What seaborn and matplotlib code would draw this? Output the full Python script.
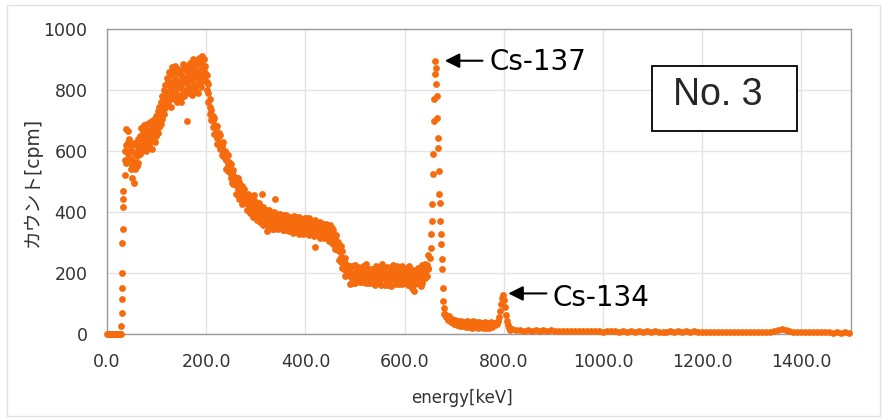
import matplotlib
matplotlib.use('Agg')
import matplotlib.pyplot as plt
import numpy as np
import pandas as pd
import seaborn as sns
from matplotlib.patches import Rectangle

# gamma spectrum No.3 (energy in keV, count in cpm)
zero_energy = [0, 2, 4, 6, 8, 10, 12, 14, 16, 18, 20, 22, 24, 26, 28]
zero_count = [0, 0, 0, 0, 0, 0, 0, 0, 0, 0, 0, 0, 0, 0, 0]

edge_energy = [29, 29.4, 29.8, 30.2, 30.6, 31, 31.4, 31.8, 32.2, 32.6]
edge_count = [26, 70, 115, 152, 201, 299, 344, 415, 443, 469]

# the continuum is a wide scatter band: three readings per energy (top, middle, bottom of band)
band_energy = [36, 39, 42, 45, 48, 51, 54, 57, 60, 63,
               66, 69, 72, 75, 78, 81, 84, 87, 90, 93,
               96, 99, 102, 105, 108, 111, 114, 117, 120, 123,
               126, 129, 132, 135, 138, 141, 144, 147, 150, 153,
               156, 159, 162, 165, 168, 171, 174, 177, 180, 183,
               186, 189, 192, 195, 198, 201, 204, 207, 210, 213,
               216, 219, 222, 225, 228, 231, 234, 237, 240, 243,
               246, 249, 252, 255, 258, 261, 264, 267, 270, 273,
               276, 279, 282, 285, 288, 291, 294, 297, 300, 303,
               306, 309, 312, 315, 318, 321, 324, 327, 330, 333,
               336, 339, 342, 345, 348, 351, 354, 357, 360, 363,
               366, 369, 372, 375, 378, 381, 384, 387, 390, 393,
               396, 399, 402, 405, 408, 411, 414, 417, 420, 423,
               426, 429, 432, 435, 438, 441, 444, 447, 450, 453,
               456, 459, 462, 465, 468, 471, 474, 477, 480, 483,
               486, 489, 492, 495, 498, 501, 504, 507, 510, 513,
               516, 519, 522, 525, 528, 531, 534, 537, 540, 543,
               546, 549, 552, 555, 558, 561, 564, 567, 570, 573,
               576, 579, 582, 585, 588, 591, 594, 597, 600, 603,
               606, 609, 612, 615, 618, 621, 624, 627, 630, 633,
               636, 639, 642, 645, 648]
band_upper = [600, 672, 665, 640, 620, 600, 625, 590, 615, 640,
              650, 675, 660, 685, 670, 690, 665, 695, 680, 700,
              690, 715, 730, 745, 760, 780, 800, 815, 840, 830,
              860, 850, 875, 860, 880, 855, 870, 865, 850, 885,
              870, 880, 860, 875, 890, 870, 900, 880, 895, 885,
              905, 890, 910, 900, 880, 850, 820, 770, 735, 715,
              709, 682, 682, 658, 652, 623, 628, 600, 593, 588,
              563, 556, 530, 538, 515, 511, 510, 497, 477, 485,
              476, 457, 456, 460, 452, 432, 445, 428, 432, 410,
              428, 421, 402, 418, 404, 408, 390, 408, 393, 396,
              399, 388, 392, 375, 395, 380, 386, 391, 389, 374,
              370, 385, 376, 378, 386, 382, 369, 383, 373, 376,
              375, 379, 379, 361, 379, 364, 372, 353, 373, 358,
              357, 368, 359, 361, 348, 361, 352, 352, 357, 346,
              342, 316, 326, 301, 293, 289, 272, 244, 250, 226,
              215, 216, 222, 222, 200, 227, 206, 220, 206, 216,
              223, 200, 228, 207, 214, 205, 214, 207, 211, 224,
              210, 215, 197, 228, 205, 213, 221, 214, 207, 219,
              225, 201, 215, 223, 219, 199, 224, 211, 213, 204,
              216, 223, 198, 210, 198, 210, 202, 216, 210, 209,
              227, 216, 230, 227, 258]
band_middle = [570, 620, 630, 600, 575, 555, 560, 565, 585, 600,
               620, 640, 635, 650, 640, 655, 645, 660, 650, 668,
               660, 680, 695, 712, 725, 742, 760, 778, 795, 795,
               815, 800, 825, 815, 835, 808, 828, 820, 805, 838,
               825, 840, 820, 832, 848, 828, 855, 840, 855, 838,
               862, 850, 870, 872, 855, 825, 790, 745, 718, 698,
               679, 675, 642, 648, 622, 617, 588, 595, 572, 553,
               553, 526, 524, 498, 510, 490, 475, 467, 470, 445,
               436, 452, 435, 425, 422, 425, 405, 418, 402, 404,
               393, 391, 395, 378, 394, 378, 384, 368, 388, 375,
               363, 379, 365, 370, 359, 375, 367, 359, 362, 368,
               365, 349, 371, 359, 354, 355, 363, 347, 364, 349,
               356, 347, 352, 355, 343, 355, 345, 348, 337, 353,
               351, 332, 350, 334, 343, 325, 347, 333, 325, 319,
               312, 310, 286, 296, 272, 254, 242, 237, 210, 216,
               210, 195, 187, 192, 193, 187, 196, 190, 200, 176,
               193, 193, 188, 197, 184, 199, 174, 202, 190, 189,
               200, 185, 191, 188, 200, 192, 186, 184, 200, 179,
               185, 196, 194, 188, 189, 192, 184, 201, 183, 198,
               181, 193, 191, 170, 188, 180, 196, 176, 205, 188,
               187, 206, 200, 221, 218]
band_lower = [520, 560, 590, 575, 540, 510, 495, 540, 550, 560,
              590, 600, 610, 620, 600, 625, 615, 630, 605, 640,
              630, 650, 660, 680, 690, 705, 720, 740, 750, 760,
              770, 745, 780, 770, 790, 760, 785, 775, 760, 790,
              780, 800, 698, 790, 805, 785, 810, 800, 815, 790,
              820, 810, 830, 845, 830, 800, 760, 720, 700, 680,
              655, 655, 622, 630, 606, 587, 582, 577, 542, 534,
              535, 510, 494, 492, 492, 460, 456, 443, 450, 425,
              430, 434, 405, 406, 398, 405, 385, 400, 386, 374,
              374, 367, 375, 358, 376, 362, 354, 362, 370, 345,
              345, 363, 350, 343, 354, 359, 340, 342, 341, 349,
              338, 344, 355, 332, 337, 334, 344, 329, 348, 334,
              329, 330, 331, 336, 325, 339, 330, 321, 332, 337,
              332, 314, 334, 319, 316, 320, 331, 306, 308, 298,
              296, 280, 280, 278, 242, 235, 218, 217, 190, 198,
              192, 165, 168, 168, 173, 167, 178, 174, 170, 170,
              169, 173, 168, 179, 168, 169, 168, 184, 160, 170,
              182, 169, 161, 182, 182, 162, 167, 160, 180, 159,
              179, 178, 164, 169, 165, 172, 164, 183, 167, 168,
              162, 169, 171, 150, 170, 164, 166, 170, 187, 158,
              167, 188, 184, 191, 212]

stray_energy = [297, 313, 323, 339, 420, 618]
stray_count = [455, 459, 338, 443, 285, 141]

cs137_energy = [652, 653, 654, 655, 656, 657, 658, 659, 660, 661, 662,
                663, 664, 665, 666, 667, 668, 669, 670, 671, 672,
                673, 674, 675, 676, 677, 678, 679, 680]
cs137_count = [250, 282, 328, 370, 426, 525, 590, 698, 770, 852, 895,
               872, 820, 780, 708, 643, 610, 535, 459, 431, 370,
               328, 295, 246, 213, 151, 108, 85, 66]

plateau_energy = [681, 684, 687, 690, 693, 696, 699, 702, 705, 708,
                  711, 714, 717, 720, 723, 726, 729, 732, 735, 738,
                  741, 744, 747, 750, 753, 756, 759, 762, 765, 768,
                  771, 774, 777, 780, 783]
plateau_count = [66, 55, 45, 58, 38, 50, 33, 46, 28, 44,
                 25, 42, 27, 40, 22, 43, 24, 39, 21, 41,
                 23, 38, 20, 40, 22, 37, 19, 39, 21, 36,
                 20, 38, 22, 35, 28]

cs134_energy = [787, 789, 791, 793, 795, 797, 799, 801, 803, 805, 807, 809, 811, 813]
cs134_count = [34, 42, 55, 75, 98, 118, 127, 112, 88, 62, 42, 28, 19, 14]

tail_energy = [816, 824, 832, 840, 848, 856, 864, 872, 880, 888,
               896, 904, 912, 920, 928, 936, 944, 952, 960, 968,
               976, 984, 992, 1000, 1008, 1016, 1024, 1032, 1040, 1048,
               1056, 1064, 1072, 1080, 1088, 1096, 1104, 1112, 1120, 1128,
               1136, 1144, 1152, 1160, 1168, 1176, 1184, 1192, 1200, 1208,
               1216, 1224, 1232, 1240, 1248, 1256, 1264, 1272, 1280, 1288,
               1296, 1304, 1312, 1320, 1328, 1336, 1344, 1352, 1360, 1368,
               1376, 1384, 1392, 1400, 1408, 1416, 1424, 1432, 1440, 1448,
               1456, 1464, 1472, 1480, 1488, 1496]
tail_count = [15, 12, 14, 11, 13, 11, 12, 10, 12, 10,
              12, 10, 11, 9, 11, 10, 11, 9, 10, 9,
              10, 9, 10, 8, 10, 9, 10, 8, 9, 8,
              9, 8, 9, 8, 9, 7, 9, 8, 8, 7,
              9, 7, 10, 8, 10, 8, 9, 7, 8, 7,
              8, 7, 8, 6, 8, 7, 7, 6, 7, 6,
              7, 6, 8, 6, 7, 7, 9, 12, 15, 13,
              9, 7, 7, 6, 6, 5, 6, 5, 5, 5,
              6, 4, 5, 4, 5, 4]

x_ticks = [0, 200, 400, 600, 800, 1000, 1200, 1400]
y_ticks = [0, 200, 400, 600, 800, 1000]

energy = (zero_energy + edge_energy + band_energy + band_energy + band_energy
          + stray_energy + cs137_energy + plateau_energy + cs134_energy + tail_energy)
count = (zero_count + edge_count + band_upper + band_middle + band_lower
         + stray_count + cs137_count + plateau_count + cs134_count + tail_count)
df = pd.DataFrame({'energy': energy, 'count': count})

sns.set_style('white')
plt.rcParams['font.family'] = ['DejaVu Sans', 'Noto Sans CJK JP']

fig = plt.figure(figsize=(8.83, 4.19), dpi=100)
ax = fig.add_axes([107 / 883, (419 - 334) / 419, 744 / 883, 305 / 419])

sns.scatterplot(data=df, x='energy', y='count', ax=ax, color='#F66B0E',
                s=24, linewidth=0, legend=False, clip_on=False, zorder=3)

ax.set_xlim(0, 1500)
ax.set_ylim(0, 1000)
ax.set_xticks(x_ticks)
ax.set_xticklabels([f'{t:.1f}' for t in x_ticks])
ax.set_yticks(y_ticks)
ax.set_yticklabels([str(t) for t in y_ticks])
ax.tick_params(length=0, labelsize=12.5, labelcolor='#333333', pad=14)
ax.grid(True, color='#e3e3e3', linewidth=1)
ax.set_axisbelow(True)
for spine in ax.spines.values():
    spine.set_color('#9a9a9a')
    spine.set_linewidth(1)
ax.set_xlabel('')
ax.set_ylabel('')

# peak labels
ax.annotate('', xy=(681, 896), xytext=(757, 896),
            arrowprops=dict(arrowstyle='-|>', color='black', lw=1.5,
                            mutation_scale=22, shrinkA=0, shrinkB=0))
ax.text(772, 892, 'Cs-137', fontsize=20, ha='left', va='center', color='black')
ax.annotate('', xy=(809, 133), xytext=(886, 133),
            arrowprops=dict(arrowstyle='-|>', color='black', lw=1.5,
                            mutation_scale=22, shrinkA=0, shrinkB=0))
ax.text(898, 118, 'Cs-134', fontsize=20, ha='left', va='center', color='black')

ax.add_patch(Rectangle((0.732, 0.6666), 0.195, 0.212, transform=ax.transAxes,
                       fill=True, facecolor='white', edgecolor='black', lw=1.3, zorder=4))
ax.text(0.761, 0.784, 'No. 3', transform=ax.transAxes, fontsize=27,
        family='Liberation Sans', ha='left', va='center', zorder=5)

fig.text(462 / 883, 1 - 398 / 419, 'energy[keV]', ha='center', va='center',
         fontsize=12, color='#333333')
fig.text(32 / 883, 1 - 182 / 419, 'カウント[cpm]', ha='center', va='center',
         rotation='vertical', fontsize=13.5, color='#333333')

# faint chart-area border
fig.patches.append(Rectangle((7 / 883, 3 / 419), 873 / 883, 411 / 419,
                             transform=fig.transFigure, fill=False,
                             edgecolor='#e2e2e2', lw=1))

fig.savefig('out.png', dpi=100)
